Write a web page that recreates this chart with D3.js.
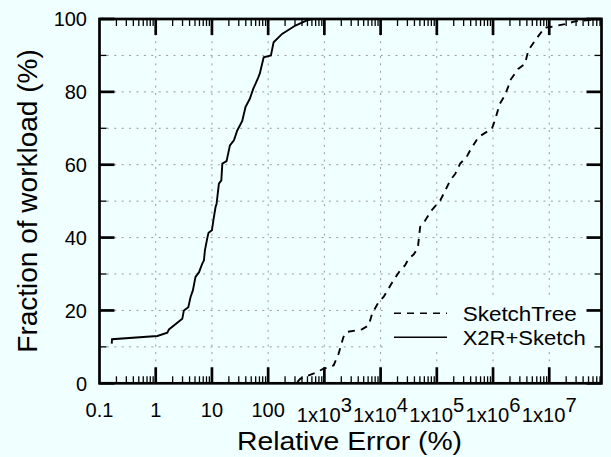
<!DOCTYPE html>
<html>
<head>
<meta charset="utf-8">
<script src="https://cdn.jsdelivr.net/npm/d3@7"></script>
<style>
  body { margin: 0; background: #f0ffff; }
  text { font-family: "Liberation Sans", Arial, Helvetica, sans-serif; fill: #000; }
</style>
</head>
<body>
<div id="chart"></div>
<script>
// values: relative error (%) vs fraction of workload (%)
var seriesNames = ["SketchTree", "X2R+Sketch"];

var x2rErr = [0.165, 0.167, 1.07, 1.61, 1.72, 2.97, 3.17, 3.8, 4.17, 4.58, 5.1, 5.9, 6.7, 7.2, 7.5,
  8.3, 8.7, 10.0, 10.6, 11.6, 12.1, 13.3, 14.7, 15.3, 18.2, 20.9, 24.6, 28.2, 34.6, 39.5, 47.2,
  54.2, 65.4, 70.9, 83.3, 112, 125, 177, 305, 490, 600, 8.5e7];
var x2rFrac = [10.9, 12.1, 13.0, 13.9, 14.8, 17.7, 20.0, 20.9, 23.7, 25.5, 29.2, 30.5, 32.8, 33.7, 36.5,
  40.0, 41.3, 42.0, 44.7, 48.4, 49.3, 54.8, 55.7, 60.3, 61.0, 65.3, 66.7, 69.4, 72.0, 75.8, 78.1,
  80.8, 83.6, 85.0, 89.5, 90.0, 93.6, 95.9, 98.2, 99.6, 100, 100];

var treeErr = [330, 375, 650, 970, 1460, 1790, 2180, 2500, 4650, 6150, 7070, 9200, 11300, 17000,
  22300, 27300, 31500, 39000, 46000, 50500, 62000, 81000, 115000, 141000, 173000, 213000, 260000,
  338000, 390000, 550000, 955000, 1.08e6, 1.32e6, 1.62e6, 1.85e6, 2.0e6, 2.8e6, 3.7e6, 4.25e6,
  5.6e6, 7.3e6, 8.0e6, 1.05e7, 1.9e7, 3.0e7, 8.5e7];
var treeFrac = [0.3, 1.3, 2.7, 4.0, 4.9, 8.1, 12.7, 14.1, 14.8, 15.9, 19.1, 22.3, 23.7, 28.3,
  31.0, 32.4, 34.2, 35.4, 37.2, 42.9, 44.7, 47.5, 50.2, 52.9, 55.7, 57.5, 60.3,
  62.1, 63.9, 67.6, 69.9, 72.2, 76.7, 79.0, 81.3, 83.1, 86.3, 87.7, 91.4,
  94.1, 96.5, 97.6, 97.8, 98.6, 99.4, 100];

var xMajor = [0.1, 1, 10, 100, 1e3, 1e4, 1e5, 1e6, 1e7];
var xLabels = ["0.1", "1", "10", "100", "1x10^3", "1x10^4", "1x10^5", "1x10^6", "1x10^7"];
var yMajor = [0, 20, 40, 60, 80, 100];
var yMinor = [10, 30, 50, 70, 90];

var margin = {top: 19, right: 9.5, bottom: 73.7, left: 99.5},
    width = 611 - margin.left - margin.right,
    height = 457 - margin.top - margin.bottom;

var svg = d3.select("#chart").append("svg")
    .attr("width", 611)
    .attr("height", 457)
    .style("background", "#f0ffff")
  .append("g")
    .attr("transform", "translate(" + margin.left + "," + margin.top + ")");

var x = d3.scaleLog().domain([0.1, 8.5e7]).range([0, width]);
var y = d3.scaleLinear().domain([0, 100]).range([height, 0]);

// minor ticks 2..9 in every decade
var xMinor = [];
xMajor.forEach(function(d) {
  for (var k = 2; k <= 9; k++) { if (d * k < 8.5e7) xMinor.push(d * k); }
});

// grid
var grid = svg.append("g").attr("stroke", "#9a9a9a").attr("stroke-width", 1)
    .attr("stroke-dasharray", "2,5.4");
grid.selectAll(".gx").data(xMajor.slice(1)).enter().append("line")
    .attr("x1", function(d) { return x(d); }).attr("x2", function(d) { return x(d); })
    .attr("y1", 0).attr("y2", height);
grid.selectAll(".gy").data(yMajor.slice(1, -1).concat(yMinor)).enter().append("line")
    .attr("x1", 0).attr("x2", width)
    .attr("y1", function(d) { return y(d); }).attr("y2", function(d) { return y(d); });

// curves
var line = d3.line()
    .x(function(d) { return x(d[0]); })
    .y(function(d) { return y(d[1]); });

var x2rData = x2rErr.map(function(d, i) { return [d, x2rFrac[i]]; });
var treeData = treeErr.map(function(d, i) { return [d, treeFrac[i]]; });

svg.append("defs").append("clipPath").attr("id", "clip")
  .append("rect").attr("width", width).attr("height", height);

var curves = svg.append("g").attr("clip-path", "url(#clip)");
curves.append("path").datum(treeData)
    .attr("d", line).attr("fill", "none").attr("stroke", "#000")
    .attr("stroke-width", 1.9).attr("stroke-dasharray", "7,6");
curves.append("path").datum(x2rData)
    .attr("d", line).attr("fill", "none").attr("stroke", "#000")
    .attr("stroke-width", 1.9);

// legend (opaque key box)
var key = svg.append("g");
key.append("rect")
    .attr("x", 388 - margin.left).attr("y", 299 - margin.top)
    .attr("width", 212).attr("height", 52)
    .attr("fill", "#f0ffff");
var keyRows = [
  {name: seriesNames[0], dash: "7,6", y: 313.3, len: 114},
  {name: seriesNames[1], dash: null, y: 337.3, len: 123}
];
keyRows.forEach(function(r) {
  key.append("line")
      .attr("x1", 394 - margin.left).attr("x2", 447 - margin.left)
      .attr("y1", r.y - margin.top).attr("y2", r.y - margin.top)
      .attr("stroke", "#000").attr("stroke-width", 1.5)
      .attr("stroke-dasharray", r.dash);
  key.append("text")
      .attr("x", 462.7 - margin.left).attr("y", r.y - margin.top)
      .attr("dy", "0.36em")
      .attr("textLength", r.len).attr("lengthAdjust", "spacingAndGlyphs")
      .style("font-size", "21px")
      .text(r.name);
});

// ticks (pointing inward, mirrored on all sides)
var ticks = svg.append("g").attr("stroke", "#000");
function xTicks(data, len, w) {
  ticks.selectAll(null).data(data).enter().append("line")
      .attr("x1", function(d) { return x(d); }).attr("x2", function(d) { return x(d); })
      .attr("y1", height).attr("y2", height - len).attr("stroke-width", w);
  ticks.selectAll(null).data(data).enter().append("line")
      .attr("x1", function(d) { return x(d); }).attr("x2", function(d) { return x(d); })
      .attr("y1", 0).attr("y2", len).attr("stroke-width", w);
}
function yTicks(data, len, w) {
  ticks.selectAll(null).data(data).enter().append("line")
      .attr("y1", function(d) { return y(d); }).attr("y2", function(d) { return y(d); })
      .attr("x1", 0).attr("x2", len).attr("stroke-width", w);
  ticks.selectAll(null).data(data).enter().append("line")
      .attr("y1", function(d) { return y(d); }).attr("y2", function(d) { return y(d); })
      .attr("x1", width).attr("x2", width - len).attr("stroke-width", w);
}
xTicks(xMinor, 7, 1.3);
xTicks(xMajor.slice(1), 16, 2.7);
yTicks(yMinor, 7, 1.3);
yTicks(yMajor, 15, 2.7);

// border
svg.append("rect")
    .attr("width", width).attr("height", height)
    .attr("fill", "none").attr("stroke", "#000").attr("stroke-width", 2.7);

// y tick labels
svg.selectAll(".ylab").data(yMajor).enter().append("text")
    .attr("x", -12.5)
    .attr("y", function(d) { return y(d); })
    .attr("dy", "0.36em")
    .attr("text-anchor", "end")
    .style("font-size", "20px")
    .text(function(d) { return d; });

// x tick labels, 1x10^n with superscript
var xl = svg.selectAll(".xlab").data(xMajor).enter().append("text")
    .attr("x", function(d) { return x(d); })
    .attr("y", function(d, i) { return xLabels[i].indexOf("^") < 0 ? height + 33.7 : height + 38.4; })
    .attr("text-anchor", "middle")
    .style("font-size", "20px");
xl.each(function(d, i) {
  var parts = xLabels[i].split("^");
  var t = d3.select(this);
  t.append("tspan").text(parts[0]);
  if (parts.length > 1) {
    t.append("tspan").attr("dy", -9.5).text(parts[1]);
    t.attr("textLength", 55).attr("lengthAdjust", "spacingAndGlyphs");
  }
});

// axis titles
svg.append("text")
    .attr("x", 349.5 - margin.left)
    .attr("y", 450 - margin.top)
    .attr("text-anchor", "middle")
    .attr("textLength", 225).attr("lengthAdjust", "spacingAndGlyphs")
    .style("font-size", "26px")
    .text("Relative Error (%)");

svg.append("text")
    .attr("transform", "translate(" + (37 - margin.left) + "," + (201 - margin.top) + ") rotate(-90)")
    .attr("text-anchor", "middle")
    .style("font-size", "28px")
    .text("Fraction of workload (%)");
</script>
</body>
</html>
